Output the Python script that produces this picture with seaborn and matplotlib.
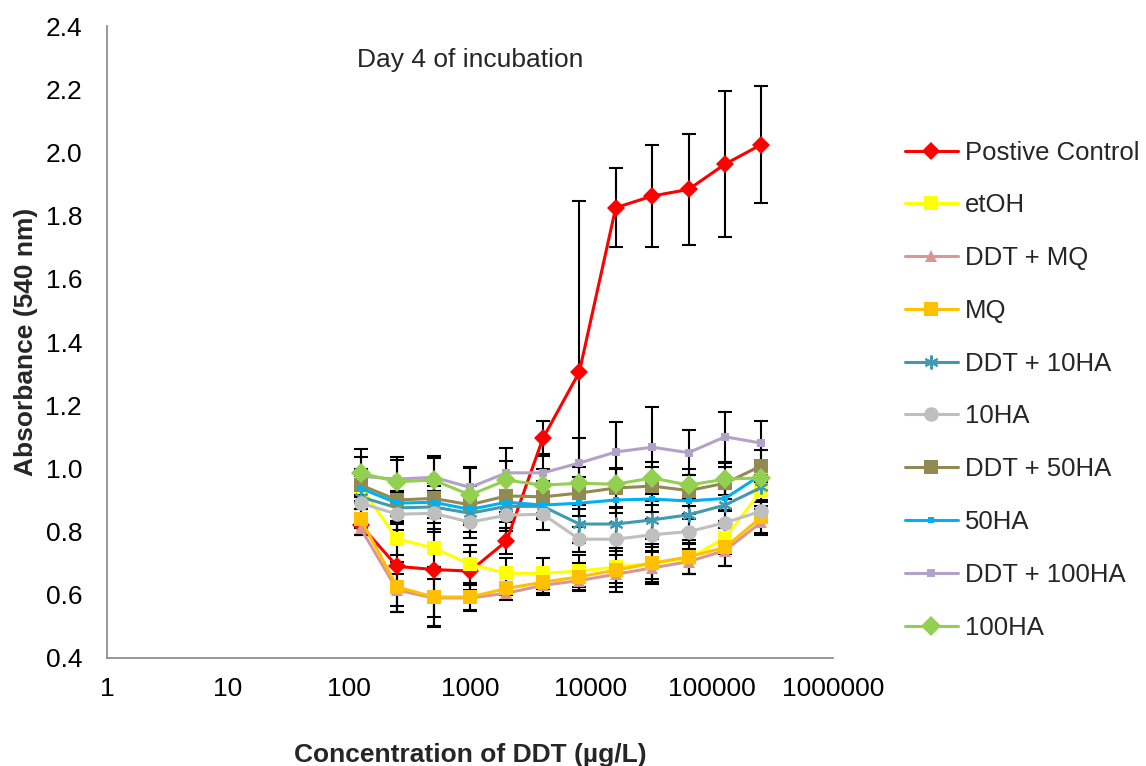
import numpy as np
import pandas as pd
import matplotlib
matplotlib.use("Agg")
import matplotlib.pyplot as plt
import seaborn as sns

# Concentrations of DDT (ug/L)
conc = [125, 250, 500, 1000, 2000, 4000, 8000, 16000, 32000, 64000, 128000, 256000]

series_names = ["Postive Control", "etOH", "DDT + MQ", "MQ", "DDT + 10HA",
                "10HA", "DDT + 50HA", "50HA", "DDT + 100HA", "100HA"]

pos_ctrl = [0.82, 0.69, 0.68, 0.675, 0.77, 1.095, 1.305, 1.825, 1.862, 1.883, 1.963, 2.025]
etoh = [0.94, 0.777, 0.748, 0.697, 0.668, 0.668, 0.675, 0.688, 0.70, 0.715, 0.78, 0.93]
ddt_mq = [0.81, 0.615, 0.59, 0.59, 0.605, 0.63, 0.645, 0.665, 0.685, 0.705, 0.74, 0.83]
mq = [0.84, 0.625, 0.593, 0.593, 0.62, 0.64, 0.657, 0.678, 0.70, 0.72, 0.75, 0.846]
ddt_10ha = [0.91, 0.875, 0.878, 0.858, 0.88, 0.88, 0.824, 0.824, 0.837, 0.853, 0.884, 0.94]
ha10 = [0.89, 0.855, 0.858, 0.83, 0.852, 0.855, 0.776, 0.776, 0.79, 0.80, 0.828, 0.865]
ddt_50ha = [0.947, 0.90, 0.905, 0.885, 0.913, 0.91, 0.922, 0.938, 0.944, 0.93, 0.953, 1.008]
ha50 = [0.937, 0.89, 0.893, 0.87, 0.893, 0.884, 0.89, 0.90, 0.903, 0.897, 0.905, 0.98]
ddt_100ha = [0.975, 0.966, 0.972, 0.94, 0.986, 0.986, 1.017, 1.052, 1.067, 1.05, 1.10, 1.08]
ha100 = [0.985, 0.958, 0.963, 0.916, 0.963, 0.947, 0.953, 0.95, 0.97, 0.947, 0.966, 0.97]

# error bars (+/-)
pos_ctrl_err = [0.03, 0.145, 0.18, 0.06, 0.04, 0.055, 0.54, 0.125, 0.16, 0.175, 0.23, 0.185]
etoh_err = [0.05, 0.05, 0.06, 0.06, 0.05, 0.05, 0.05, 0.05, 0.05, 0.05, 0.05, 0.05]
ddt_mq_err = [0.02, 0.05, 0.06, 0.04, 0.02, 0.03, 0.03, 0.04, 0.05, 0.04, 0.05, 0.04]
mq_err = [0.03, 0.08, 0.095, 0.04, 0.02, 0.035, 0.045, 0.07, 0.06, 0.055, 0.06, 0.05]
ddt_10ha_err = [0.04, 0.05, 0.05, 0.06, 0.05, 0.04, 0.06, 0.05, 0.06, 0.05, 0.05, 0.04]
ha10_err = [0.04, 0.05, 0.06, 0.05, 0.05, 0.05, 0.04, 0.05, 0.05, 0.04, 0.04, 0.03]
ddt_50ha_err = [0.05, 0.05, 0.05, 0.06, 0.05, 0.05, 0.05, 0.06, 0.06, 0.05, 0.05, 0.05]
ha50_err = [0.04, 0.04, 0.05, 0.05, 0.04, 0.04, 0.04, 0.04, 0.04, 0.04, 0.04, 0.04]
ddt_100ha_err = [0.06, 0.06, 0.06, 0.06, 0.08, 0.06, 0.08, 0.095, 0.127, 0.07, 0.08, 0.07]
ha100_err = [0.075, 0.077, 0.077, 0.09, 0.06, 0.05, 0.05, 0.05, 0.05, 0.05, 0.05, 0.05]

values = [pos_ctrl, etoh, ddt_mq, mq, ddt_10ha, ha10, ddt_50ha, ha50, ddt_100ha, ha100]
errors = [pos_ctrl_err, etoh_err, ddt_mq_err, mq_err, ddt_10ha_err, ha10_err,
          ddt_50ha_err, ha50_err, ddt_100ha_err, ha100_err]

colors = ["#FF0000", "#FFFF00", "#D99694", "#FFC000", "#4199B2",
          "#BFBFBF", "#938953", "#00B0F0", "#B3A2C7", "#92D050"]
markers = ["D", "s", "^", "s", (6, 2, 0), "o", "s", "s", "s", "D"]
msizes = [9.5, 10, 9, 10, 10, 10.5, 10, 5, 6, 10]

FS = 19

sns.set_style("white")
plt.rcParams["font.family"] = ["Liberation Sans", "DejaVu Sans"]

fig = plt.figure(figsize=(11.46, 7.66), dpi=100)
ax = fig.add_axes([0.0934, 0.141, 0.6335, 0.825])

for i, name in enumerate(series_names):
    df = pd.DataFrame({"conc": conc, "abs": values[i]})
    ax.errorbar(conc, values[i], yerr=errors[i], fmt="none", ecolor="black",
                elinewidth=1.5, capsize=5, capthick=1.5, zorder=2 + i * 0.1)
    mew = 1.5 if i == 4 else 0
    sns.lineplot(data=df, x="conc", y="abs", ax=ax, color=colors[i], marker=markers[i],
                 markersize=msizes[i], markeredgecolor=colors[i], markeredgewidth=mew,
                 linewidth=2.2, label=name, zorder=3 + i * 0.1)

ax.set_xscale("log")
ax.set_xlim(1, 1000000)
ax.set_ylim(0.4, 2.4)
ax.set_xticks([1, 10, 100, 1000, 10000, 100000, 1000000])
ax.set_xticklabels(["1", "10", "100", "1000", "10000", "100000", "1000000"])
ax.xaxis.set_minor_locator(matplotlib.ticker.NullLocator())
ax.set_yticks(np.arange(0.4, 2.41, 0.2))
ax.set_yticklabels([f"{v:.1f}" for v in np.arange(0.4, 2.41, 0.2)])

for s in ["top", "right"]:
    ax.spines[s].set_visible(False)
for s in ["left", "bottom"]:
    ax.spines[s].set_color("#868686")
    ax.spines[s].set_linewidth(1.2)
ax.tick_params(axis="both", direction="out", length=5, width=1.2, color="#868686",
               labelsize=FS, labelcolor="black")
ax.tick_params(axis="y", pad=13)
ax.tick_params(axis="x", pad=9)

ax.set_xlabel("Concentration of DDT (µg/L)", fontsize=FS, fontweight="bold", labelpad=30)
ax.set_ylabel("Absorbance (540 nm)", fontsize=FS, fontweight="bold", labelpad=5)
ax.text(0.344, 0.946, "Day 4 of incubation", transform=ax.transAxes, fontsize=FS, va="center")

ax.legend(loc="upper left", bbox_to_anchor=(1.085, 0.835), frameon=False, fontsize=18.5,
          labelspacing=1.12, handlelength=2.05, handletextpad=0.27, borderaxespad=0)

fig.savefig("out.png", dpi=100)
